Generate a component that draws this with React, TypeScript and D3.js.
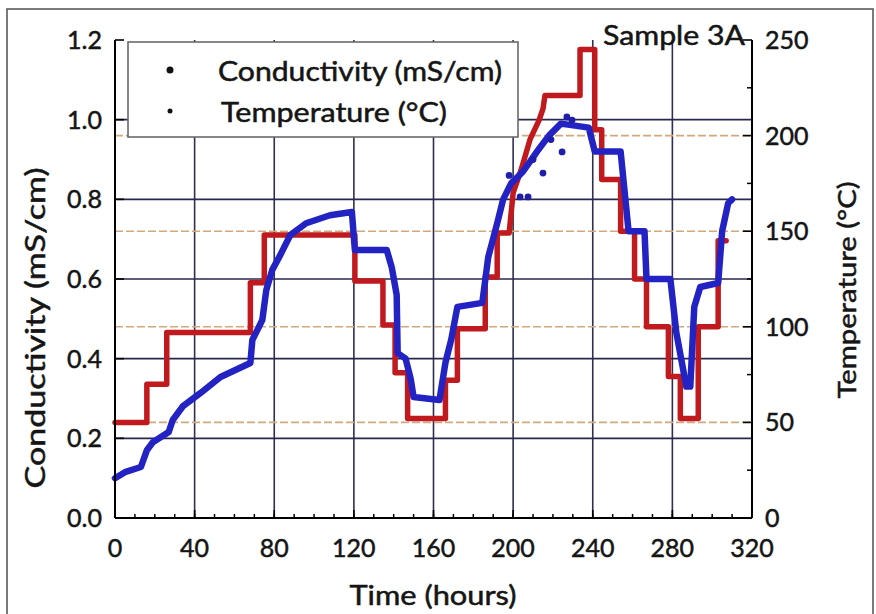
import React from 'react';
import * as d3 from 'd3';

// Axis ticks
const hourTicks = [0, 40, 80, 120, 160, 200, 240, 280, 320];
const hourMinorTicks = d3.range(0, 321, 10);
const condTicks = [0, 0.2, 0.4, 0.6, 0.8, 1.0, 1.2];
const condLabels = ['0.0', '0.2', '0.4', '0.6', '0.8', '1.0', '1.2'];
const tempTicks = [0, 50, 100, 150, 200, 250];
const tempMinorTicks = [25, 75, 125, 175, 225];

// Conductivity (mS/cm) vs time (hours)
const condTime = [
  0, 5, 13, 16, 19, 27, 29, 34, 43, 53, 68, 69, 74, 76, 79, 83, 88, 96, 108, 119,
  120.5, 136.5, 139, 141.5, 142, 146, 148.5, 150, 163, 166, 169, 172, 184.5, 187.5,
  192, 195, 199, 205, 212, 218, 224, 238, 241, 254, 258, 266, 267, 279, 282, 287,
  289, 291, 294, 303, 305, 308, 310,
];
const condValue = [
  0.1, 0.115, 0.128, 0.17, 0.19, 0.216, 0.246, 0.28, 0.314, 0.354, 0.389, 0.447,
  0.497, 0.572, 0.623, 0.66, 0.71, 0.74, 0.76, 0.768,
  0.673, 0.673, 0.63, 0.56, 0.414, 0.4, 0.35, 0.304, 0.296, 0.39, 0.45, 0.53, 0.54,
  0.655, 0.74, 0.8, 0.84, 0.87, 0.92, 0.96, 0.99, 0.98, 0.92, 0.92, 0.72, 0.72, 0.6,
  0.6, 0.465, 0.33, 0.33, 0.53, 0.58, 0.59, 0.72, 0.79, 0.8,
];
// Scattered conductivity readings during the fast heating phase
const condScatterTime = [198, 203.5, 207.5, 210, 215, 219, 224.6, 227, 229.6];
const condScatterValue = [0.86, 0.806, 0.806, 0.9, 0.866, 0.95, 0.919, 1.007, 0.999];

// Temperature (°C) vs time (hours)
const tempTime = [
  0, 16, 16, 26, 26, 68, 68, 75, 75, 120.5, 120.5, 134.6, 134.6, 140.7, 140.7, 147,
  147, 166, 166, 172, 172, 186, 186, 192, 192, 198, 200, 204, 208.5, 213, 215, 216,
  233.6, 233.6, 241, 241, 244.5, 244.5, 254, 254, 261, 261, 267, 267, 278, 278, 284,
  284, 293, 293, 303, 303, 307,
];
const tempValue = [
  50, 50, 70, 70, 97, 97, 123, 123, 148, 148, 124, 124, 101, 101, 76, 76,
  52, 52, 72, 72, 99, 99, 126, 126, 149, 149, 170, 182, 198, 208, 214, 221,
  221, 245, 245, 203, 203, 177, 177, 150, 150, 125, 125, 100, 100, 74, 74,
  52, 52, 100, 100, 145, 145,
];

const W = 876;
const H = 614;
const left = 115;
const right = 752;
const top = 40;
const bottom = 518;

const FONT = "Lato, 'Open Sans', 'DejaVu Sans', sans-serif";
const INK = '#151515';
// slight outline gives the text a heavier weight
const textInk = { fill: INK, stroke: INK, strokeWidth: 0.5 };

export default function App() {
  const x = d3.scaleLinear().domain([0, 320]).range([left, right]);
  const yC = d3.scaleLinear().domain([0, 1.2]).range([bottom, top]);
  const yT = d3.scaleLinear().domain([0, 250]).range([bottom, top]);

  const condLine = d3
    .line<number>()
    .x((_, i) => x(condTime[i]))
    .y((d) => yC(d))
    .curve(d3.curveLinear);
  const tempLine = d3
    .line<number>()
    .x((_, i) => x(tempTime[i]))
    .y((d) => yT(d))
    .curve(d3.curveLinear);

  return (
    <svg
      width={W}
      height={H}
      viewBox={`0 0 ${W} ${H}`}
      style={{ position: 'absolute', left: 0, top: 0, background: '#fff' }}
      fontFamily={FONT}
    >
      <rect x={0} y={0} width={W} height={H} fill="#fff" />
      {/* outer frame */}
      <rect x={7} y={9} width={866} height={620} fill="none" stroke="#5a5a5a" strokeWidth={1.6} />

      {/* vertical grid */}
      {hourTicks.slice(1, -1).map((t) => (
        <line key={'vg' + t} x1={x(t)} x2={x(t)} y1={top} y2={bottom} stroke="#2e2e50" strokeWidth={1.6} />
      ))}
      {/* temperature grid */}
      {tempTicks.slice(1, -1).map((t) => (
        <line
          key={'tg' + t}
          x1={left}
          x2={right}
          y1={yT(t)}
          y2={yT(t)}
          stroke="#d2a97c"
          strokeWidth={1.6}
          strokeDasharray="8 3"
        />
      ))}
      {/* conductivity grid */}
      {condTicks.slice(1, -1).map((c) => (
        <line key={'cg' + c} x1={left} x2={right} y1={yC(c)} y2={yC(c)} stroke="#28284f" strokeWidth={1.7} />
      ))}

      {/* temperature series */}
      <path
        d={tempLine(tempValue) || ''}
        fill="none"
        stroke="#c01a1e"
        strokeWidth={5.5}
        strokeLinejoin="round"
        strokeLinecap="round"
      />
      {/* conductivity series */}
      <path
        d={condLine(condValue) || ''}
        fill="none"
        stroke="#2323c4"
        strokeWidth={6.5}
        strokeLinejoin="round"
        strokeLinecap="round"
      />
      {condScatterValue.map((c, i) => (
        <circle key={'cs' + i} cx={x(condScatterTime[i])} cy={yC(c)} r={3.4} fill="#1e1ea8" />
      ))}

      {/* axes */}
      <line x1={left} x2={left} y1={top} y2={bottom} stroke="#000" strokeWidth={2} />
      <line x1={right} x2={right} y1={top} y2={bottom} stroke="#000" strokeWidth={2} />
      <line x1={left} x2={right} y1={bottom} y2={bottom} stroke="#000" strokeWidth={2} />

      {/* bottom ticks */}
      {hourMinorTicks.map((t) => (
        <line key={'hm' + t} x1={x(t)} x2={x(t)} y1={bottom} y2={bottom - 4} stroke="#000" strokeWidth={1.5} />
      ))}
      {hourTicks.map((t) => (
        <g key={'ht' + t}>
          <line x1={x(t)} x2={x(t)} y1={bottom} y2={bottom - 8} stroke="#000" strokeWidth={1.6} />
          <text x={x(t)} y={557} textAnchor="middle" fontSize={25} {...textInk}>
            {t}
          </text>
        </g>
      ))}

      {/* left ticks */}
      {condTicks.map((c, i) => (
        <g key={'ct' + c}>
          <line x1={left} x2={left + 9} y1={yC(c)} y2={yC(c)} stroke="#000" strokeWidth={1.6} />
          <text x={102} y={yC(c) + 9} textAnchor="end" fontSize={25} {...textInk}>
            {condLabels[i]}
          </text>
        </g>
      ))}

      {/* right ticks */}
      {tempMinorTicks.map((t) => (
        <line key={'tm' + t} x1={right} x2={right - 5} y1={yT(t)} y2={yT(t)} stroke="#000" strokeWidth={1.5} />
      ))}
      {tempTicks.map((t) => (
        <g key={'tt' + t}>
          <line x1={right} x2={right - 9} y1={yT(t)} y2={yT(t)} stroke="#000" strokeWidth={1.6} />
          <text x={765} y={yT(t) + 9} textAnchor="start" fontSize={25} {...textInk}>
            {t}
          </text>
        </g>
      ))}

      {/* axis titles */}
      <text x={433} y={605} textAnchor="middle" fontSize={26} {...textInk} textLength={167} lengthAdjust="spacingAndGlyphs">
        Time (hours)
      </text>
      <text
        transform="translate(45,328) rotate(-90)"
        textAnchor="middle"
        fontSize={26}
        {...textInk}
        textLength={321}
        lengthAdjust="spacingAndGlyphs"
      >
        Conductivity (mS/cm)
      </text>
      <text
        transform="translate(856,290) rotate(-90)"
        textAnchor="middle"
        fontSize={25}
        {...textInk}
        textLength={217}
        lengthAdjust="spacingAndGlyphs"
      >
        Temperature (°C)
      </text>

      {/* sample label */}
      <text x={603} y={45} fontSize={26} {...textInk} textLength={142} lengthAdjust="spacingAndGlyphs">
        Sample 3A
      </text>

      {/* legend */}
      <rect x={128} y={42} width={390} height={95} fill="#fff" stroke="#6a6a6a" strokeWidth={1.6} />
      <circle cx={170} cy={70} r={3.5} fill="#111" />
      <text x={218} y={81} fontSize={26} {...textInk} textLength={284} lengthAdjust="spacingAndGlyphs">
        Conductivity (mS/cm)
      </text>
      <circle cx={170} cy={111} r={2.5} fill="#111" />
      <text x={221} y={122} fontSize={26} {...textInk} textLength={226} lengthAdjust="spacingAndGlyphs">
        Temperature (°C)
      </text>
    </svg>
  );
}
